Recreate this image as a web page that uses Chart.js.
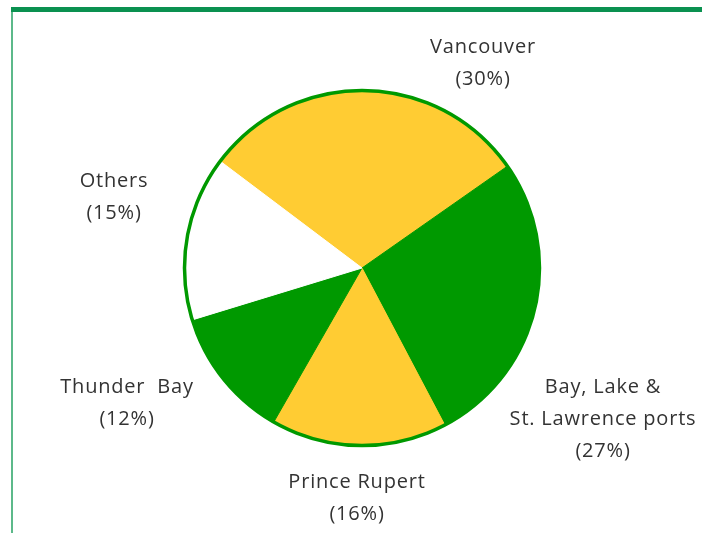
<!DOCTYPE html>
<html>
<head>
<meta charset="utf-8">
<script src="https://cdn.jsdelivr.net/npm/chart.js@4"></script>
<style>
  html, body { margin: 0; padding: 0; background: #ffffff; }
  #wrap { position: relative; width: 702px; height: 533px; overflow: hidden; }
  #topbar { position: absolute; left: 11px; top: 7px; width: 691px; height: 5px; background: #0a9150; }
  #leftbar { position: absolute; left: 11px; top: 12px; width: 2px; height: 521px; background: #5cb98a; }
  canvas { position: absolute; left: 0; top: 0; }
</style>
</head>
<body>
<div id="wrap">
  <canvas id="c" width="702" height="533"></canvas>
  <div id="topbar"></div>
  <div id="leftbar"></div>
</div>
<script>
const categories = ["Vancouver", "Bay, Lake & St. Lawrence ports", "Prince Rupert", "Thunder Bay", "Others"];
const shares = [30, 27, 16, 12, 15];
const sliceColors = ["#ffcc33", "#009900", "#ffcc33", "#009900", "#ffffff"];
const labelLines = [
  ["Vancouver", "(30%)"],
  ["Bay, Lake &", "St. Lawrence ports", "(27%)"],
  ["Prince Rupert", "(16%)"],
  ["Thunder  Bay", "(12%)"],
  ["Others", "(15%)"]
];
// label anchor (center x, first baseline y) relative to the pie center
const labelOffsets = [
  [121, -215],
  [241, 125],
  [-5, 220],
  [-235, 125],
  [-248, -81]
];

const outlinePlugin = {
  id: 'outlineAndLabels',
  afterDatasetsDraw(chart) {
    const ctx = chart.ctx;
    const meta = chart.getDatasetMeta(0);
    const arc = meta.data[0];
    const cx = arc.x, cy = arc.y, r = arc.outerRadius;
    ctx.save();
    ctx.beginPath();
    ctx.arc(cx, cy, r, 0, Math.PI * 2);
    ctx.lineWidth = 3.5;
    ctx.strokeStyle = "#009900";
    ctx.stroke();
    ctx.fillStyle = "#333333";
    ctx.font = "20px 'Open Sans'";
    if ('letterSpacing' in ctx) ctx.letterSpacing = "0.8px";
    ctx.textAlign = "center";
    ctx.textBaseline = "alphabetic";
    labelLines.forEach((lines, i) => {
      const [dx, dy] = labelOffsets[i];
      lines.forEach((t, j) => {
        ctx.fillText(t, cx + dx, cy + dy + j * 32);
      });
    });
    ctx.restore();
  }
};

new Chart(document.getElementById('c'), {
  type: 'pie',
  data: {
    labels: categories,
    datasets: [{
      data: shares,
      backgroundColor: sliceColors,
      borderColor: sliceColors,
      borderWidth: 1
    }]
  },
  options: {
    responsive: false,
    animation: false,
    rotation: -53,
    layout: { padding: { left: 184, right: 162, top: 90, bottom: 87 } },
    plugins: {
      legend: { display: false },
      tooltip: { enabled: false }
    }
  },
  plugins: [outlinePlugin]
});
</script>
</body>
</html>
